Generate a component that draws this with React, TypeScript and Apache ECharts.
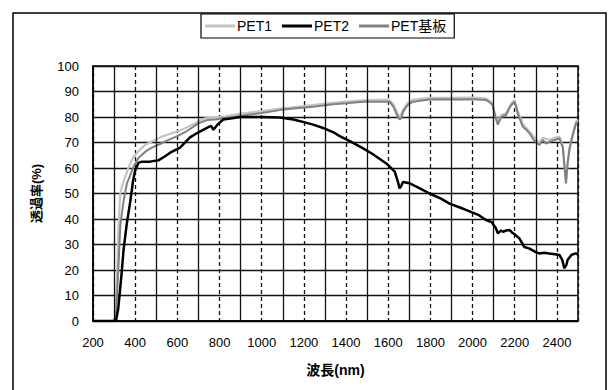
import React, { useEffect, useRef } from "react";
import * as echarts from "echarts";

// ---- Data ----
const pet1Nm = [200, 300, 305, 313, 320, 329, 340, 353, 370, 392, 420, 447, 480, 526, 570, 621, 684, 731, 780, 830, 900, 1000, 1086, 1200, 1300, 1400, 1500, 1600, 1622, 1640, 1654, 1670, 1690, 1717, 1800, 1900, 2000, 2064, 2090, 2105, 2120, 2136, 2160, 2183, 2199, 2214, 2238, 2270, 2317, 2333, 2364, 2412, 2428, 2443, 2459, 2491, 2500];
const pet1Val = [0, 0, 2, 15, 35, 50, 53.5, 56.6, 60.5, 64.4, 67, 69, 70.5, 72.3, 73.5, 75, 77.5, 79.5, 79.8, 80.3, 81.3, 82.3, 83.3, 84.3, 85.3, 86, 86.6, 86.8, 85.3, 82.3, 79.8, 82.8, 85.3, 86.8, 87.5, 87.5, 87.6, 87.3, 85.8, 81.3, 78.3, 80.8, 81.6, 85.3, 86.6, 82.3, 77.3, 74.3, 69.8, 71.8, 71.1, 72.3, 68.8, 55.3, 67.8, 78.3, 78.8];

const pet2Nm = [200, 300, 310, 320, 335, 345, 360, 377, 390, 400, 415, 432, 470, 510, 540, 566, 613, 660, 700, 747, 760, 771, 790, 818, 860, 897, 1000, 1086, 1150, 1200, 1244, 1291, 1340, 1370, 1418, 1481, 1526, 1591, 1631, 1646, 1654, 1662, 1670, 1702, 1750, 1796, 1850, 1891, 1940, 1986, 2030, 2064, 2090, 2110, 2120, 2135, 2144, 2160, 2175, 2190, 2199, 2222, 2246, 2270, 2300, 2317, 2340, 2364, 2390, 2412, 2425, 2435, 2445, 2451, 2470, 2490, 2500];
const pet2Val = [0, 0, 0.5, 5, 18, 28, 38, 47, 55, 59, 62, 62.5, 62.5, 63, 64.5, 66, 68, 72, 74, 76, 76.5, 75, 77, 79, 79.5, 80, 80, 79.8, 79, 78, 77, 75.7, 74, 72.5, 70.5, 67.7, 65.5, 61.8, 58.6, 54.6, 52, 53, 54.5, 54, 52, 50, 48, 46, 44.5, 43, 41.5, 39.6, 38.8, 36.5, 34.4, 35.5, 35, 35.5, 35.7, 34.5, 34, 32.4, 29, 28.4, 27, 26.5, 26.8, 26.5, 26.2, 25.9, 24, 20.7, 22, 24, 26, 26.5, 26];

const subNm = [200, 300, 310, 320, 330, 345, 361, 376, 392, 416, 450, 479, 520, 558, 600, 645, 700, 740, 780, 818, 865, 929, 1000, 1086, 1150, 1244, 1339, 1400, 1481, 1550, 1607, 1625, 1640, 1654, 1662, 1670, 1690, 1717, 1796, 1850, 1923, 2000, 2064, 2085, 2096, 2108, 2120, 2136, 2159, 2172, 2183, 2199, 2207, 2214, 2238, 2255, 2270, 2290, 2317, 2333, 2350, 2364, 2390, 2412, 2428, 2436, 2443, 2451, 2459, 2475, 2491, 2500];
const subVal = [0, 0, 3, 20, 38, 47, 54, 57, 60.5, 64, 66.5, 68, 69.5, 71, 72.5, 74.5, 77.5, 78.8, 79, 79.5, 80, 80.8, 81.6, 82.7, 83.3, 84, 85, 85.4, 86, 86, 86, 84, 81, 79, 79.5, 82, 84.5, 86, 86.9, 87, 86.9, 87, 86.7, 85.5, 84.7, 80, 77, 80, 80.8, 83, 84.7, 86, 84, 81.4, 76.2, 75, 73.6, 71, 69, 71, 69.5, 70.3, 71, 71.6, 68, 60, 54, 62, 67, 73, 77.5, 78];

const seriesNames = ["PET1", "PET2", "PET基板"];
const solidGridNm = [300, 500, 700, 900, 1100, 1300, 1500, 1700, 1900, 2100, 2300];

const xTitle = "波長(nm)";
const yTitle = "透過率(%)";

const FONT = "'Liberation Sans', Arial, 'Noto Sans CJK JP', sans-serif";

function zip(xs: number[], ys: number[]) {
  return xs.map((x, i) => [x, ys[i]]);
}

export default function App() {
  const ref = useRef<HTMLDivElement>(null);
  useEffect(() => {
    if (!ref.current) return;
    const chart = echarts.init(ref.current, null, { renderer: "svg" });
    chart.setOption({
      animation: false,
      backgroundColor: "#ffffff",
      textStyle: { fontFamily: FONT, color: "#000" },
      graphic: [
        {
          type: "rect",
          silent: true,
          z: -10,
          shape: { x: 13, y: 13, width: 593, height: 420 },
          style: { fill: "none", stroke: "#000", lineWidth: 1.5 },
        },
      ],
      legend: {
        data: seriesNames,
        left: 201,
        top: 14,
        padding: [5, 8, 5, 4],
        icon: "rect",
        itemWidth: 30,
        itemHeight: 3,
        itemGap: 10,
        borderColor: "#000",
        borderWidth: 1.2,
        backgroundColor: "#fff",
        textStyle: { fontSize: 14, color: "#000", fontFamily: FONT, padding: [0, 0, 0, -3] },
      },
      grid: {
        left: 93,
        right: 31,
        top: 66,
        bottom: 69,
        show: true,
        borderColor: "#000",
        borderWidth: 1.5,
        backgroundColor: "#fff",
      },
      xAxis: {
        type: "value",
        min: 200,
        max: 2500,
        interval: 200,
        name: xTitle,
        nameLocation: "middle",
        nameGap: 42,
        nameTextStyle: { fontSize: 14, color: "#000", fontFamily: FONT, fontWeight: "bold" },
        axisLine: { show: true, lineStyle: { color: "#000", width: 1.5 } },
        axisTick: { show: false },
        axisLabel: {
          fontSize: 13,
          color: "#000",
          margin: 15,
          showMaxLabel: false,
          fontFamily: FONT,
          formatter: (v: number) => String(v),
        },
        splitLine: { show: true, lineStyle: { color: "#111", width: 1.3, type: [4, 3] } },
      },
      yAxis: {
        type: "value",
        min: 0,
        max: 100,
        interval: 10,
        name: yTitle,
        nameLocation: "middle",
        nameGap: 50,
        nameTextStyle: { fontSize: 13, color: "#000", fontFamily: FONT, fontWeight: "bold" },
        axisLine: { show: true, lineStyle: { color: "#000", width: 1.5 } },
        axisTick: { show: false },
        axisLabel: { fontSize: 13, color: "#000", margin: 14, fontFamily: FONT, formatter: (v: number) => String(v) },
        splitLine: { show: true, lineStyle: { color: "#111", width: 1.3 } },
      },
      series: [
        {
          name: "grid",
          type: "line",
          data: [],
          z: 1,
          silent: true,
          markLine: {
            silent: true,
            symbol: "none",
            label: { show: false },
            lineStyle: { color: "#111", width: 1.3, type: "solid" },
            data: solidGridNm.map((v) => ({ xAxis: v })),
          },
        },
        {
          name: seriesNames[0],
          type: "line",
          data: zip(pet1Nm, pet1Val),
          showSymbol: false,
          symbol: "none",
          z: 3,
          lineStyle: { color: "#c4c4c4", width: 2.2 },
          itemStyle: { color: "#c4c4c4" },
        },
        {
          name: seriesNames[2],
          type: "line",
          data: zip(subNm, subVal),
          showSymbol: false,
          symbol: "none",
          z: 4,
          lineStyle: { color: "#808080", width: 2 },
          itemStyle: { color: "#808080" },
        },
        {
          name: seriesNames[1],
          type: "line",
          data: zip(pet2Nm, pet2Val),
          showSymbol: false,
          symbol: "none",
          z: 5,
          lineStyle: { color: "#000", width: 2.5 },
          itemStyle: { color: "#000" },
        },
      ],
    });
    return () => chart.dispose();
  }, []);
  return (
    <div
      ref={ref}
      style={{ position: "fixed", left: 0, top: 0, width: 609, height: 390 }}
    />
  );
}
